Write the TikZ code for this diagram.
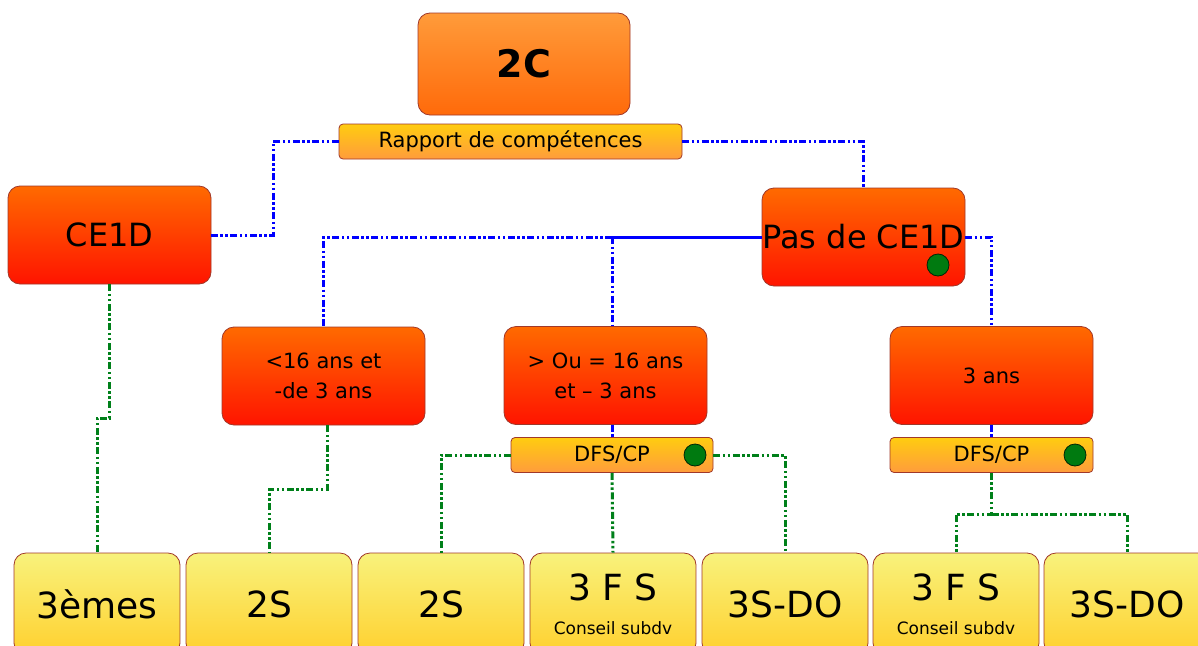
\documentclass[tikz,border=0pt]{standalone}
\usepackage{fontspec}
\setmainfont{DejaVu Sans}
\newcommand{\smallcaption}{\fontsize{17}{19}\selectfont}
\definecolor{edge}{HTML}{A0382A}
\definecolor{topA}{HTML}{FF9B3A}\definecolor{botA}{HTML}{FF6A0A}
\definecolor{topR}{HTML}{FF6A00}\definecolor{botR}{HTML}{FF1400}
\definecolor{topY}{HTML}{FFCC10}\definecolor{botY}{HTML}{FF9C3C}
\definecolor{topL}{HTML}{F8F27C}\definecolor{botL}{HTML}{FFD02E}
\definecolor{linkblue}{HTML}{0000FF}
\definecolor{linkgreen}{HTML}{00801A}
\definecolor{dotgreen}{HTML}{007A10}
\tikzset{
  box/.style={draw=edge, line width=0.8pt, inner sep=0pt, align=center, text=black},
  rootbox/.style={box, rounded corners=12pt, top color=topA, bottom color=botA,
    minimum width=212pt, minimum height=102pt, font=\fontsize{38}{40}\selectfont\bfseries},
  redbox/.style={box, rounded corners=12pt, top color=topR, bottom color=botR,
    minimum width=203pt, minimum height=98pt},
  tagbox/.style={box, rounded corners=4pt, top color=topY, bottom color=botY,
    minimum height=35pt, font=\fontsize{21}{23}\selectfont},
  leafbox/.style={box, rounded corners=12pt, top color=topL, bottom color=botL,
    minimum width=166pt, minimum height=102pt, font=\fontsize{36}{38}\selectfont},
  gdot/.style={circle, fill=dotgreen, draw=black!70!dotgreen, line width=0.8pt,
    minimum size=22pt, inner sep=0pt},
  dashdotdot/.style={line width=3pt,
    dash pattern=on 7pt off 2.5pt on 2.5pt off 2.5pt on 2.5pt off 2.5pt},
  blink/.style={dashdotdot, draw=linkblue},
  blinksolid/.style={line width=3pt, draw=linkblue},
  glink/.style={dashdotdot, draw=linkgreen}
}
\begin{document}
\begin{tikzpicture}[x=1pt,y=-1pt]
\useasboundingbox (0,0) rectangle (1198,645);
\clip (0,0) rectangle (1198,645);

% connector elbows
\coordinate (kL) at (273,145);
\coordinate (kA) at (0,418);
\coordinate (kB) at (0,489);
\coordinate (kC) at (0,514);

% boxes
\node[rootbox] (root) at (524,64) {2C};
\node[tagbox, minimum width=343pt] (rap) at (510.5,141.5) {Rapport de compétences};
\node[redbox, font=\fontsize{32}{34}\selectfont] (ce) at (109.5,235) {CE1D};
\node[redbox, font=\fontsize{32}{34}\selectfont] (pas) at (863.5,237) {Pas de CE1D};
\node[redbox, font=\fontsize{21}{30}\selectfont] (lt) at (323.5,376) {<16 ans et\\-de 3 ans};
\node[redbox, font=\fontsize{21}{30}\selectfont] (mid) at (605.5,375.5) {> Ou = 16 ans\\et – 3 ans};
\node[redbox, font=\fontsize{21}{23}\selectfont] (three) at (991.5,375.5) {3 ans};
\node[tagbox, minimum width=202pt] (dfsa) at (612,455) {DFS/CP};
\node[tagbox, minimum width=203pt] (dfsb) at (991.5,455) {DFS/CP};

\node[leafbox] (b1) at (97,604) {3èmes};
\node[leafbox] (b2) at (269,604) {2S};
\node[leafbox] (b3) at (441,604) {2S};
\node[leafbox] (b4) at (613,604) {3 F S\\[-4pt]{\smallcaption Conseil subdv}};
\node[leafbox] (b5) at (785,604) {3S-DO};
\node[leafbox] (b6) at (956,604) {3 F S\\[-4pt]{\smallcaption Conseil subdv}};
\node[leafbox] (b7) at (1127,604) {3S-DO};

% status dots
\node[gdot] (d0) at (938,265) {};
\node[gdot] (d1) at (695,455) {};
\node[gdot] (d2) at (1075,455) {};

% upper links
\draw[blink] (rap.east) -| (pas.north);
\draw[blink] (rap.west) -| (kL |- ce.east) -- (ce.east);
\coordinate (jm) at (dfsa.north |- pas.west);
\draw[blinksolid] (pas.west) -- (jm);
\draw[blink] (jm) -| (lt.north);
\draw[blink] (jm) -- (jm |- mid.north);
\draw[blink] (pas.east) -| (three.north);
\draw[blink] (dfsa.north |- mid.south) -- (dfsa.north);
\draw[blink] (three.south) -- (dfsb.north);

% lower links
\draw[glink] (ce.south) -- (ce.south |- kA) -| (b1.north);
\draw[glink] ([xshift=4pt]lt.south) -- ([xshift=4pt]lt.south |- kB) -| (b2.north);
\draw[glink] (dfsa.west) -| (b3.north);
\draw[glink] (dfsa.south) -- (b4.north);
\draw[glink] (dfsa.east) -| (b5.north);
\draw[glink] (dfsb.south) -- (dfsb.south |- kC) -| (b6.north);
\draw[glink] (dfsb.south |- kC) -| (b7.north);
\end{tikzpicture}
\end{document}
